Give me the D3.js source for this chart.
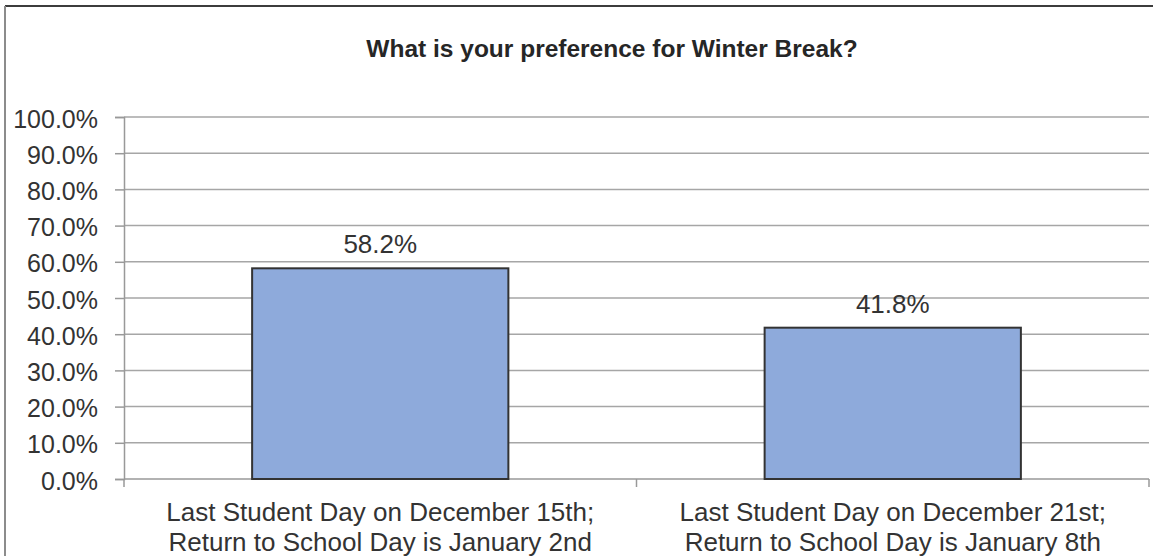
<!doctype HTML>
<html>
<head>
    <style>
        body { margin: 0; background: white; }
        text { font-family: "Liberation Sans", Arial, sans-serif; fill: #333; }
        .grid line { stroke: #a6a6a6; stroke-width: 1.5px; }
        .bar { fill: #8eaadb; stroke: #333; stroke-width: 2px; }
    </style>
    <script src="https://d3js.org/d3.v7.min.js"></script>
</head>
<body>
<script>
    // values
    var categories = ["Dec 15 / Jan 2", "Dec 21 / Jan 8"];
    var categoryLines = [
        ["Last Student Day on December 15th;", "Return to School Day is January 2nd"],
        ["Last Student Day on December 21st;", "Return to School Day is January 8th"]
    ];
    var values = [58.2, 41.8];
    var yTicks = [0, 10, 20, 30, 40, 50, 60, 70, 80, 90, 100];
    var title = "What is your preference for Winter Break?";

    var canvasWidth = 1153;
    var canvasHeight = 556;

    var svg = d3.select("body").append("svg")
        .attr("width", canvasWidth)
        .attr("height", canvasHeight);

    // chart frame (cut off on the right and bottom)
    svg.append("line")
        .attr("x1", 5).attr("x2", canvasWidth).attr("y1", 6).attr("y2", 6)
        .attr("stroke", "#3c3c3c").attr("stroke-width", 2);
    svg.append("line")
        .attr("x1", 5).attr("x2", 5).attr("y1", 6).attr("y2", canvasHeight)
        .attr("stroke", "#8c8c8c").attr("stroke-width", 2);

    var plotLeft = 124, plotRight = 1149, plotTop = 117, plotBottom = 479;

    var xScale = d3.scaleBand()
        .domain(categories)
        .range([plotLeft, plotRight])
        .paddingInner(0.5)
        .paddingOuter(0.25);
    var yScale = d3.scaleLinear().domain([0, 100]).range([plotBottom, plotTop]);

    svg.append("text")
        .attr("x", 612)
        .attr("y", 57)
        .attr("text-anchor", "middle")
        .attr("font-size", "24.5px")
        .attr("font-weight", "bold")
        .style("fill", "#262626")
        .text(title);

    // gridlines
    svg.append("g")
        .attr("class", "grid")
        .selectAll("line")
        .data(yTicks.filter(function(d) { return d > 0; }))
        .enter()
        .append("line")
            .attr("x1", plotLeft)
            .attr("x2", plotRight)
            .attr("y1", function(d) { return yScale(d); })
            .attr("y2", function(d) { return yScale(d); });

    // y axis
    var yAxis = svg.append("g")
        .attr("transform", "translate(" + plotLeft + ",0)")
        .call(d3.axisLeft(yScale)
            .tickValues(yTicks)
            .tickFormat(function(d) { return d.toFixed(1) + "%"; })
            .tickSize(9)
            .tickPadding(17));
    yAxis.select(".domain").attr("stroke", "#999").attr("stroke-width", 1.5);
    yAxis.selectAll(".tick line").attr("stroke", "#999").attr("stroke-width", 1.5);
    yAxis.selectAll(".tick text")
        .attr("font-size", "25px")
        .attr("font-family", null)
        .attr("dy", "0.4em")
        .style("fill", "#333");

    // x axis: ticks sit on the category boundaries
    var boundaries = d3.range(categories.length + 1).map(function(i) {
        return plotLeft + i * xScale.step();
    });
    svg.append("line")
        .attr("x1", plotLeft).attr("x2", plotRight)
        .attr("y1", plotBottom).attr("y2", plotBottom)
        .attr("stroke", "#999").attr("stroke-width", 1.5);
    svg.selectAll("xticks")
        .data(boundaries)
        .enter()
        .append("line")
            .attr("x1", function(d) { return d; })
            .attr("x2", function(d) { return d; })
            .attr("y1", plotBottom)
            .attr("y2", plotBottom + 8)
            .attr("stroke", "#999").attr("stroke-width", 1.5);

    // bars
    svg.selectAll("bars")
        .data(values)
        .enter()
        .append("rect")
            .attr("class", "bar")
            .attr("x", function(d, i) { return xScale(categories[i]); })
            .attr("y", function(d) { return yScale(d); })
            .attr("width", xScale.bandwidth())
            .attr("height", function(d) { return plotBottom - yScale(d); });

    // value labels
    svg.selectAll("vlabels")
        .data(values)
        .enter()
        .append("text")
            .attr("x", function(d, i) { return xScale(categories[i]) + xScale.bandwidth() / 2; })
            .attr("y", function(d) { return yScale(d) - 15; })
            .attr("text-anchor", "middle")
            .attr("font-size", "26px")
            .text(function(d) { return d.toFixed(1) + "%"; });

    // category labels
    var catLabels = svg.selectAll("clabels")
        .data(categoryLines)
        .enter()
        .append("text")
            .attr("text-anchor", "middle")
            .attr("font-size", "26px")
            .attr("y", 521);
    catLabels.selectAll("tspan")
        .data(function(d, i) { return d.map(function(t) { return {t: t, i: i}; }); })
        .enter()
        .append("tspan")
            .attr("x", function(d) { return xScale(categories[d.i]) + xScale.bandwidth() / 2; })
            .attr("dy", function(d, j) { return j === 0 ? 0 : 30; })
            .text(function(d) { return d.t; });
</script>
</body>
</html>
